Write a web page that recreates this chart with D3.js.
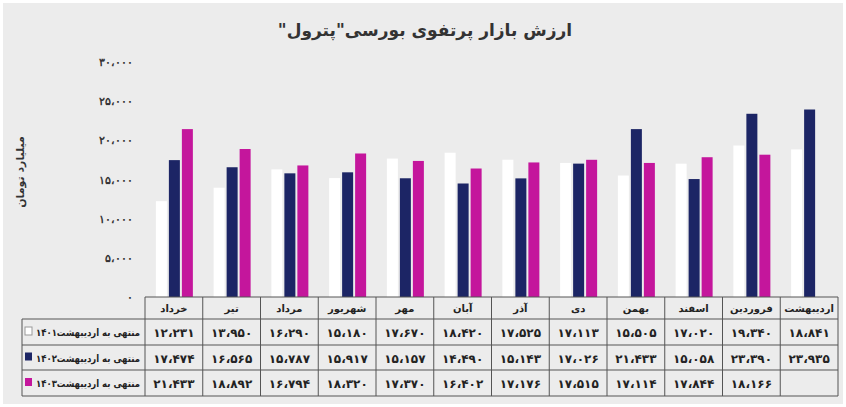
<!DOCTYPE html><html><head><meta charset="utf-8"><script src="https://cdn.jsdelivr.net/npm/d3@7"></script>
<style>body{margin:0;background:#fff;font-family:"DejaVu Sans",sans-serif}</style></head><body><svg id="c" width="846" height="407"></svg>
<script>
const categories=["خرداد","تیر","مرداد","شهریور","مهر","آبان","آذر","دی","بهمن","اسفند","فروردین","اردیبهشت"];
const s1401=[12231,13950,16290,15180,17670,18420,17525,17113,15505,17020,19340,18841];
const s1402=[17474,16565,15787,15917,15157,14490,15143,17026,21433,15058,23390,23935];
const s1403=[21433,18892,16794,18320,17370,16402,17176,17515,17114,17844,18166,null];
const seriesNames=["منتهی به اردیبهشت۱۴۰۱","منتهی به اردیبهشت۱۴۰۲","منتهی به اردیبهشت۱۴۰۳"];
const yTicks=[0,5000,10000,15000,20000,25000,30000];
const colors=["#ffffff","#1c2565","#c4169c"];
const fa=n=>{let s=d3.format(",")(n).replace(/,/g,"،");return s.replace(/\d/g,d=>"۰۱۲۳۴۵۶۷۸۹"[d]);};
const svg=d3.select("#c");
svg.append("rect").attr("x",3).attr("y",3).attr("width",840).attr("height",401).attr("fill","#ececec");
svg.append("text").attr("x",425).attr("y",36).attr("text-anchor","middle").attr("font-size",17).attr("font-weight","bold").attr("fill","#333").attr("direction","rtl").text('ارزش بازار پرتفوی بورسی"پترول"');
const x=d3.scaleBand().domain(categories).range([145,838]);
const y=d3.scaleLinear().domain([0,30000]).range([297,62]);
const ax=svg.append("g").attr("transform","translate(136,0)").call(d3.axisLeft(y).tickValues(yTicks).tickFormat(d=>d===0?"۰":fa(d)).tickSize(0));
ax.select(".domain").remove();
ax.selectAll("text").attr("font-size",11).attr("font-weight","bold").attr("fill","#333");
svg.append("text").attr("transform","translate(24,172) rotate(-90)").attr("text-anchor","middle").attr("font-size",11).attr("font-weight","bold").attr("fill","#333").text("میلیارد تومان");
const series=[s1401,s1402,s1403];
const bw=11;
series.forEach((s,i)=>{
 svg.append("g").selectAll("rect").data(categories.map((c,j)=>({c,v:s[j]})).filter(d=>d.v!=null)).join("rect")
 .attr("x",d=>x(d.c)+x.bandwidth()/2-18+i*13).attr("width",bw)
 .attr("y",d=>y(d.v)).attr("height",d=>y(0)-y(d.v))
 .attr("fill",colors[i]);
});
const rowsY=[297,319,345,370,396];
const tg=svg.append("g");
categories.forEach(c=>tg.append("text").attr("x",x(c)+x.bandwidth()/2).attr("y",312).attr("text-anchor","middle").attr("font-size",10).attr("font-weight","bold").attr("fill","#222").text(c));
series.forEach((s,i)=>{
 const yy=(rowsY[i+1]+rowsY[i+2])/2+4;
 tg.append("text").attr("x",36).attr("y",yy).attr("direction","rtl").attr("text-anchor","end").attr("textLength",104).attr("lengthAdjust","spacingAndGlyphs").attr("font-size",10).attr("font-weight","bold").attr("fill","#222").text(seriesNames[i]);
 tg.append("rect").attr("x",25).attr("y",yy-9).attr("width",7).attr("height",8).attr("fill",colors[i]).attr("stroke",i==0?"#999":"none");
 s.forEach((v,j)=>{ if(v!=null) tg.append("text").attr("x",x(categories[j])+x.bandwidth()/2).attr("y",yy+1).attr("text-anchor","middle").attr("font-size",12).attr("font-weight","bold").attr("fill","#222").text(fa(v));});
});
const lc="#555";
[319,345,370,396].forEach(v=>tg.append("line").attr("x1",22).attr("x2",838).attr("y1",v).attr("y2",v).attr("stroke",lc));
tg.append("line").attr("x1",145).attr("x2",838).attr("y1",297).attr("y2",297).attr("stroke",lc);
tg.append("line").attr("x1",22).attr("x2",22).attr("y1",319).attr("y2",396).attr("stroke",lc);
categories.forEach(c=>tg.append("line").attr("x1",x(c)).attr("x2",x(c)).attr("y1",297).attr("y2",396).attr("stroke",lc));
tg.append("line").attr("x1",838).attr("x2",838).attr("y1",297).attr("y2",396).attr("stroke",lc);
</script></body></html>
